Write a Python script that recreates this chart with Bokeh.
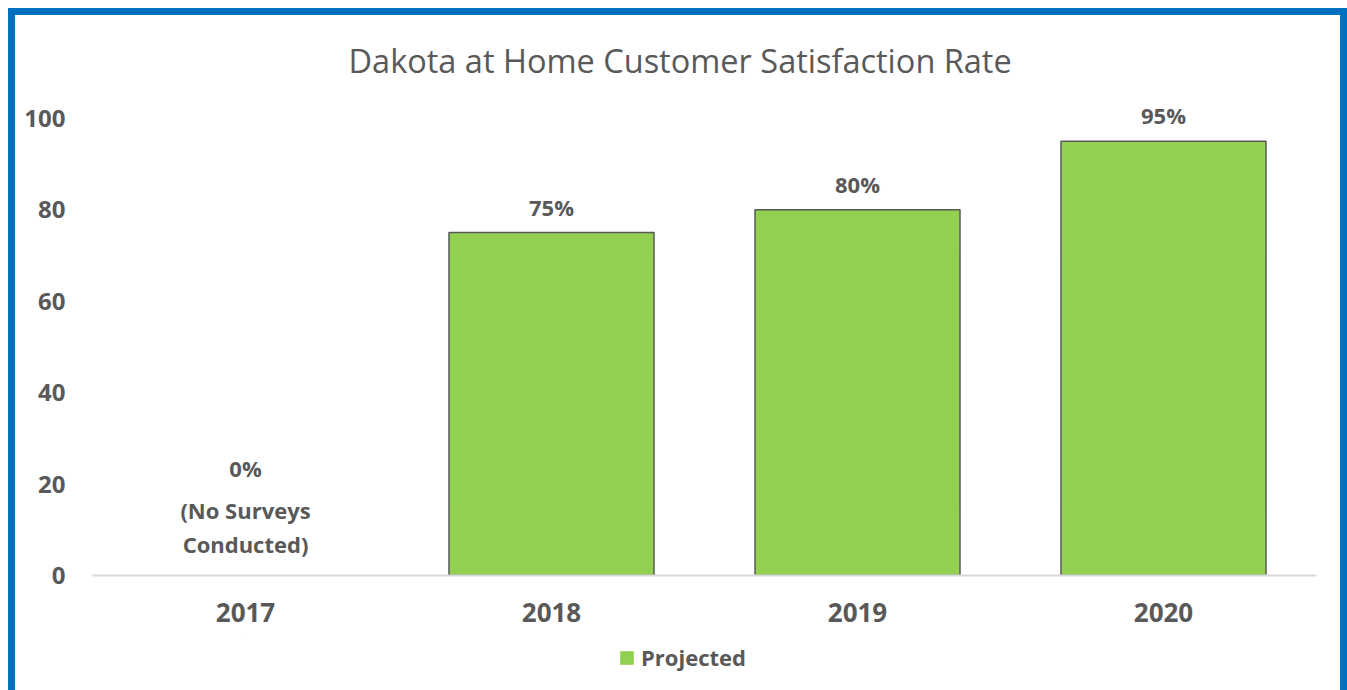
from bokeh.plotting import figure
from bokeh.layouts import column
from bokeh.models import (FactorRange, Range1d, Legend, LegendItem, FixedTicker,
                          ColumnDataSource, CDSView, IndexFilter)
from bokeh.core.properties import value
from bokeh.embed import file_html
from bokeh.resources import INLINE

# ---- data ----
years = ["2017", "2018", "2019", "2020"]
rates = [0, 75, 80, 95]
rate_labels = ["0%", "75%", "80%", "95%"]
note_year = "2017"
note_lines = ["(No Surveys", "Conducted)"]
y_ticks = [0, 20, 40, 60, 80, 100]
title_text = "Dakota at Home Customer Satisfaction Rate"
series_name = "Projected"

# ---- style ----
GREEN = "#92D050"
GREY = "#595959"
BLUE = "#0070C0"
BASE = "#D9D9D9"
FONT = "Open Sans"
W = 1325

p = figure(
    x_range=FactorRange(*years),
    y_range=Range1d(0, 103.9),
    width=W, height=620,
    output_backend="svg", toolbar_location=None,
    min_border_left=77, min_border_right=24, min_border_top=85, min_border_bottom=60,
    background_fill_color="white", border_fill_color="white",
    outline_line_color=None,
)

# title
p.title.text = title_text
p.title.text_font = FONT
p.title.text_font_size = "32.5px"
p.title.text_font_style = "normal"
p.title.text_color = GREY
p.title.align = "left"
p.title.offset = 256
p.title.standoff = 36

# bars: fill, then outline on top
bar_line = [GREY if r > 0 else None for r in rates]
p.vbar(x=years, top=rates, width=0.67, fill_color=GREEN, line_color=None)
p.vbar(x=years, top=rates, width=0.67, fill_color=None, line_color=bar_line, line_width=1.5)

# data labels
label_off = [-108 if r == 0 else -26 for r in rates]
p.text(x=years, y=rates, text=rate_labels, y_offset=label_off,
       text_font=value(FONT), text_font_style="bold", text_font_size="22px",
       text_color=GREY, text_align="center", text_baseline="middle")
p.text(x=[note_year] * len(note_lines), y=[0] * len(note_lines), text=note_lines,
       y_offset=[-66, -32],
       text_font=value(FONT), text_font_style="bold", text_font_size="22px",
       text_color=GREY, text_align="center", text_baseline="middle")

# axes
p.xgrid.grid_line_color = None
p.ygrid.grid_line_color = None
p.xaxis.axis_line_color = BASE
p.xaxis.axis_line_width = 2
p.xaxis.major_tick_line_color = None
p.xaxis.minor_tick_line_color = None
p.xaxis.major_tick_out = 0
p.xaxis.major_label_standoff = 27
p.xaxis.major_label_text_font = FONT
p.xaxis.major_label_text_font_style = "bold"
p.xaxis.major_label_text_font_size = "26px"
p.xaxis.major_label_text_color = GREY

p.yaxis.ticker = FixedTicker(ticks=y_ticks)
p.yaxis.axis_line_color = None
p.yaxis.major_tick_line_color = None
p.yaxis.minor_tick_line_color = None
p.yaxis.major_tick_out = 0
p.yaxis.major_label_standoff = 27
p.yaxis.major_label_text_font = FONT
p.yaxis.major_label_text_font_style = "bold"
p.yaxis.major_label_text_font_size = "24px"
p.yaxis.major_label_text_color = GREY

# legend strip below the chart (swatch renderer draws nothing visible, only its legend entry)
lf = figure(
    x_range=FactorRange(*years), y_range=Range1d(-1000, -999),
    width=W, height=55, output_backend="svg", toolbar_location=None,
    min_border_left=77, min_border_right=24, min_border_top=0, min_border_bottom=9,
    outline_line_color=None,
    background_fill_color="white", border_fill_color="white",
)
lf.axis.visible = False
lf.grid.grid_line_color = None
src = ColumnDataSource(data=dict(x=years, top=rates))
swatch = lf.vbar(x="x", top="top", source=src, view=CDSView(filter=IndexFilter([0])),
                 width=0.001, fill_color=GREEN, line_color=None)
legend = Legend(items=[LegendItem(label=series_name, renderers=[swatch])],
                orientation="horizontal", location=(526, 9),
                glyph_width=17, glyph_height=17, label_standoff=6,
                label_text_font=FONT, label_text_font_style="bold",
                label_text_font_size="22px", label_text_color=GREY,
                border_line_color=None, background_fill_alpha=0)
lf.add_layout(legend)

layout = column(p, lf, spacing=0,
                styles={"border-top": f"7px solid {BLUE}", "border-left": f"7px solid {BLUE}",
                        "border-right": f"7px solid {BLUE}",
                        "margin-top": "8px", "margin-left": "8px"})

open("out.html", "w").write(file_html(layout, INLINE))
